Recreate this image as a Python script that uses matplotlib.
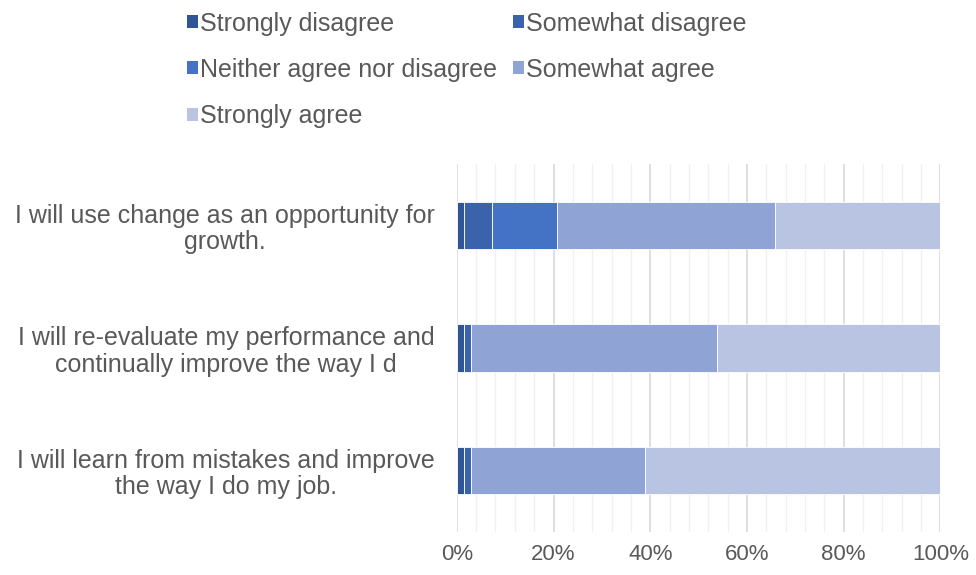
import matplotlib.pyplot as plt
from matplotlib.patches import Patch
from matplotlib.ticker import MultipleLocator, PercentFormatter

plt.rcParams['font.family'] = ['Liberation Sans', 'DejaVu Sans']

statements = [
    "I will use change as an opportunity for\ngrowth.",
    "I will re-evaluate my performance and\ncontinually improve the way I d",
    "I will learn from mistakes and improve\nthe way I do my job.",
]
responses = ["Strongly disagree", "Somewhat disagree",
             "Neither agree nor disagree", "Somewhat agree", "Strongly agree"]

# share of answers per statement (%), one list per response level
strongly_disagree = [1.4, 1.4, 1.4]
somewhat_disagree = [5.8, 1.5, 1.5]
neither = [13.5, 0.0, 0.0]
somewhat_agree = [45.1, 51.0, 36.0]
strongly_agree = [34.2, 46.1, 61.1]

series = [strongly_disagree, somewhat_disagree, neither, somewhat_agree, strongly_agree]
colors = ['#2F5597', '#3A63AC', '#4472C4', '#8FA3D4', '#B9C3E2']
text_color = '#595959'

fig = plt.figure(figsize=(9.76, 5.75), dpi=100)
ax = fig.add_axes([0.468, 0.0748, 0.4956, 0.64])

ypos = list(range(len(statements)))
left = [0.0] * len(statements)
for vals, col, name in zip(series, colors, responses):
    ax.barh(ypos, vals, left=left, height=0.385, color=col,
            edgecolor='#FFFFFF', linewidth=0.6, label=name, zorder=3)
    left = [a + b for a, b in zip(left, vals)]

ax.set_xlim(0, 100)
ax.set_ylim(len(statements) - 0.5, -0.5)
ax.set_yticks(ypos)
ax.set_yticklabels(statements, fontsize=18, color=text_color,
                   multialignment='center', linespacing=1.12)
ax.xaxis.set_major_locator(MultipleLocator(20))
ax.xaxis.set_minor_locator(MultipleLocator(4))
ax.xaxis.set_major_formatter(PercentFormatter(decimals=0))
ax.tick_params(axis='x', which='both', length=0, labelsize=16,
               labelcolor=text_color, pad=9)
ax.tick_params(axis='y', length=0, pad=16)

ax.grid(axis='x', which='major', color='#D9D9D9', linewidth=1.2, zorder=0)
ax.grid(axis='x', which='minor', color='#F0F0F0', linewidth=1.0, zorder=0)
for s in ax.spines.values():
    s.set_visible(False)

handles = [Patch(facecolor=c, label=n) for c, n in zip(colors, responses)]
order = [0, 2, 4, 1, 3]
fig.legend([handles[i] for i in order], [responses[i] for i in order],
           ncol=2, loc='upper left', bbox_to_anchor=(0.1916, 0.98),
           frameon=False, fontsize=18, labelcolor=text_color,
           handlelength=0.42, handleheight=0.42, handletextpad=0.1,
           columnspacing=0.65, labelspacing=0.89,
           borderpad=0, borderaxespad=0)

fig.savefig('out.png', dpi=100)
